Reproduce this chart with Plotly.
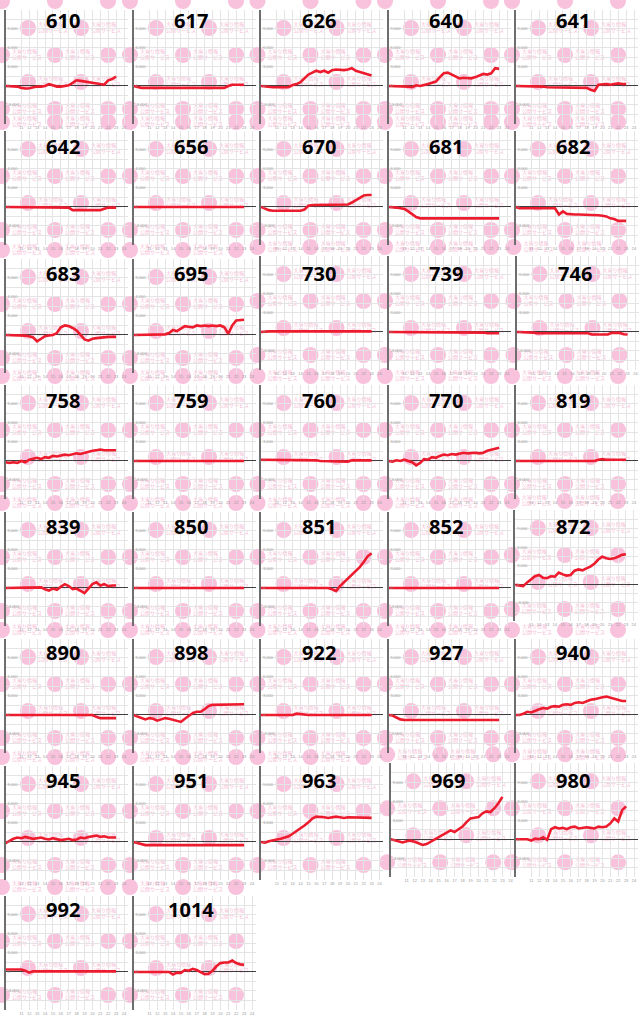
import plotly.graph_objects as go

W, H = 640, 1019

# ---------------- data ----------------
HOURS = [9 + 0.5 * i for i in range(29)]
X_TICKS = [10, 11, 12, 13, 14, 15, 16, 17, 18, 19, 20, 21, 22, 23, 24]
Y_TICKS = [-6000, -3000, 0, 3000, 6000, 9000, 12000]
Y_TICK_TEXT = ["-6,000", "-3,000", "0", "3,000", "6,000", "9,000", "12,000"]
Y_MINOR = [-4500, -1500, 1500, 4500, 7500, 10500]

v610 = [0, 0, 0, -100, -300, -400, -350, -200, -100, -100, 0, 300, 100, -100, -100, 0, 100, 500, 900, 800, 700, 600, 400, 300, 300, 200, 900, 1100, 1500]
v617 = [0, -200, -300, -300, -300, -300, -300, -300, -300, -300, -300, -300, -300, -300, -300, -300, -300, -300, -300, -300, -300, -300, -300, -300, 0, 200, 200, 200, 200]
v626 = [0, -100, -200, -200, -200, -200, -200, -200, 150, 300, 600, 1200, 1800, 2100, 2400, 2200, 2400, 2100, 2500, 2600, 2500, 2500, 2600, 2800, 2400, 2200, 2000, 1800, 1650]
v640 = [0, 0, 0, 0, 0, -100, -200, 100, 0, 100, 300, 500, 700, 1400, 2000, 2100, 1800, 1400, 1200, 1300, 1200, 1200, 1400, 1600, 1900, 1800, 2000, 2800, 2700]
v641 = [0, 0, 0, -100, -100, -100, -100, -100, -200, -200, -200, -200, -200, -200, -200, -200, -200, -200, -300, -600, -800, 200, 300, 300, 200, 300, 400, 300, 300]
v642 = [0, 0, 0, 0, 0, 0, 0, 0, 0, 0, 0, 0, 0, 0, 0, 0, -100, -500, -500, -500, -500, -500, -500, -500, -500, -300, -100, -100, -100]
v656 = [0, 0, 0, 0, 0, 0, 0, 0, 0, 0, 0, 0, 0, 0, 0, 0, 0, 0, 0, 0, 0, 0, 0, 0, 0, 0, 0, 0, 0]
v670 = [0, -300, -500, -600, -600, -600, -600, -600, -600, -600, -600, -400, 200, 300, 300, 300, 300, 300, 300, 300, 300, 300, 400, 700, 1100, 1500, 1800, 1900, 1900]
v681 = [0, 0, -100, -200, -300, -700, -1200, -1600, -1800, -1800, -1800, -1800, -1800, -1800, -1800, -1800, -1800, -1800, -1800, -1800, -1800, -1800, -1800, -1800, -1800, -1800, -1800, -1800, -1800]
v682 = [0, -200, -200, -200, -200, -200, -200, -200, -200, -200, -200, -1200, -700, -1100, -1200, -1200, -1200, -1200, -1200, -1200, -1200, -1300, -1400, -1500, -1800, -1900, -2200, -2200, -2200]
v683 = [0, 0, 0, 0, 0, -100, -200, -400, -1000, -600, -200, -100, 0, 300, 1200, 1500, 1400, 1100, 700, 0, -700, -900, -600, -500, -400, -300, -300, -300, -300]
v695 = [0, 0, 0, 0, 0, 0, 0, 0, 100, 300, 800, 600, 1000, 1400, 1300, 1200, 1500, 1400, 1500, 1400, 1500, 1400, 1500, 1200, 200, 1500, 2300, 2400, 2400]
v730 = [0, 100, 100, 100, 100, 100, 100, 100, 100, 100, 100, 100, 100, 100, 100, 100, 100, 100, 100, 100, 100, 100, 100, 100, 100, 100, 100, 100, 100]
v739 = [0, 0, 0, 0, 0, 0, 0, 0, 0, 0, 0, 0, 0, 0, 0, 0, 0, 0, 0, 0, 0, 0, -100, -100, -100, -200, -200, -200, -200]
v746 = [0, 0, 0, 0, -100, -200, -200, -200, -200, -200, -200, -200, -200, -200, -200, -200, -200, -200, -200, -400, -400, -400, -400, -400, -150, -150, -150, -350, -400]
v758 = [-200, -300, -200, -300, 0, -200, 200, 400, 500, 300, 600, 500, 800, 700, 800, 1000, 900, 1000, 1200, 1100, 1300, 1500, 1600, 1700, 1800, 1700, 1700, 1700, 1700]
v759 = [0, 0, 0, 0, 0, 0, 0, 0, 0, 0, 0, 0, 0, 0, 0, 0, 0, 0, 0, 0, 0, 0, 0, 0, 0, 0, 0, 0, 0]
v760 = [200, 200, 200, 200, 200, 200, 200, 100, 100, 100, 100, 100, 100, 100, 100, 0, 0, 0, 0, -100, -100, -100, -100, 100, 100, 100, 100, 100, 100]
v770 = [0, -100, 100, 0, 200, 0, -200, -700, -300, 300, 200, 600, 500, 800, 1000, 900, 1100, 1000, 1100, 1300, 1200, 1300, 1300, 1200, 1300, 1600, 1800, 2000, 2100]
v819 = [0, 0, 0, 0, 0, 0, 0, 0, 0, 0, 0, 0, 0, 0, 0, 0, 0, 0, 0, 0, 0, 200, 300, 200, 200, 200, 200, 200, 200]
v839 = [0, 0, 0, 0, 0, 0, 0, 0, 0, 100, -200, -400, -100, -300, 200, 600, 300, -200, -100, -500, -800, -100, 600, 900, 400, 600, 300, 400, 400]
v850 = [0, 0, 0, 0, 0, 0, 0, 0, 0, 0, 0, 0, 0, 0, 0, 0, 0, 0, 0, 0, 0, 0, 0, 0, 0, 0, 0, 0, 0]
v851 = [0, 0, 0, 0, 0, 0, 0, 0, 0, 0, 0, 0, 0, 0, 0, 0, 0, 0, -200, -500, 300, 900, 1500, 2100, 2700, 3300, 4100, 5000, 5500]
v852 = [0, 0, 0, 0, 0, 0, 0, 0, 0, 0, 0, 0, 0, 0, 0, 0, 0, 0, 0, 0, 0, 0, 0, 0, 0, 0, 0, 0, 0]
v872 = [-100, -250, -300, 300, 850, 1300, 1500, 1050, 1000, 1300, 1250, 1900, 1600, 1400, 1500, 2200, 2400, 2250, 2580, 2850, 3300, 4000, 4460, 4200, 4080, 4190, 4450, 4750, 4840]
v890 = [0, 0, 0, 0, 0, 0, 0, 0, 0, 0, 0, 0, 0, 0, 0, 0, 0, 0, 0, 0, 0, 0, 0, -300, -500, -500, -500, -500, -500]
v898 = [0, -200, -400, -700, -500, -600, -900, -700, -500, -600, -800, -1000, -1100, -600, -100, 300, 500, 500, 900, 1400, 1600, 1600, 1700, 1700, 1700, 1700, 1700, 1700, 1700]
v922 = [0, 0, 0, 0, 0, 0, 0, 0, 0, 200, 100, 0, 0, 0, 0, 0, 0, 0, 0, 0, 0, 0, 0, 0, 0, 0, 0, 0, 0]
v927 = [0, -100, -400, -700, -800, -800, -800, -800, -800, -800, -800, -800, -800, -800, -800, -800, -800, -800, -800, -800, -800, -800, -800, -800, -800, -800, -800, -800, -800]
v940 = [0, 0, 200, 500, 400, 700, 900, 1100, 1000, 1300, 1400, 1300, 1600, 1700, 1600, 1900, 2000, 1900, 2200, 2400, 2500, 2700, 2800, 2900, 2700, 2500, 2300, 2200, 2200]
v945 = [-200, 200, 500, 700, 600, 800, 700, 500, 600, 700, 500, 400, 600, 500, 300, 400, 500, 300, 400, 700, 600, 800, 900, 1000, 800, 900, 700, 700, 700]
v951 = [0, -200, -400, -500, -500, -500, -500, -500, -500, -500, -500, -500, -500, -500, -500, -500, -500, -500, -500, -500, -500, -500, -500, -500, -500, -500, -500, -500, -500]
v963 = [0, -100, 100, 300, 400, 500, 700, 900, 1300, 1700, 2100, 2600, 3100, 3700, 4000, 4000, 3900, 3800, 3900, 4000, 3900, 3800, 3900, 3900, 3800, 3900, 3900, 3800, 3800]
v969 = [0, -200, -400, -500, -300, -200, -400, -700, -900, -750, -400, -100, 300, 600, 1000, 1400, 1150, 1600, 2000, 2700, 3300, 3400, 3500, 4100, 4400, 4300, 4900, 5700, 6700]
v980 = [0, 0, -100, 0, -200, 100, 0, 300, -100, 1600, 1900, 1700, 1800, 1600, 1900, 2000, 1700, 1800, 1900, 1800, 1700, 2000, 1900, 2000, 2500, 3300, 2800, 4600, 5200]
v992 = [400, 400, 400, 400, 400, 200, -100, 100, 100, 100, 100, 100, 100, 100, 100, 100, 100, 100, 100, 100, 100, 100, 100, 100, 100, 100, 100, 100, 100]
v1014 = [0, 0, 0, 0, 0, 0, 0, 0, 0, 0, -400, -100, -150, 300, 200, 500, 300, 0, -350, -300, 200, 900, 1400, 1500, 1500, 1800, 1400, 1200, 1150]

PANELS = [
    ("610", v610), ("617", v617), ("626", v626), ("640", v640), ("641", v641),
    ("642", v642), ("656", v656), ("670", v670), ("681", v681), ("682", v682),
    ("683", v683), ("695", v695), ("730", v730), ("739", v739), ("746", v746),
    ("758", v758), ("759", v759), ("760", v760), ("770", v770), ("819", v819),
    ("839", v839), ("850", v850), ("851", v851), ("852", v852), ("872", v872),
    ("890", v890), ("898", v898), ("922", v922), ("927", v927), ("940", v940),
    ("945", v945), ("951", v951), ("963", v963), ("969", v969), ("980", v980),
    ("992", v992), ("1014", v1014),
]

# ---------------- geometry / style ----------------
COL_AXIS_X = [5.5, 133.5, 261, 388.5, 515.5]
ROW_TOP = [10, 131, 259, 385, 512, 639, 766, 896]
ROW_TITLE_Y = [20, 147, 273, 400, 526, 652, 780, 909]
PX_HOUR = 7.9
PX_K = 6.33
OVERRIDE = {
    "730": dict(top=256),
    "739": dict(top=256),
    "746": dict(top=256, ax=517),
    "872": dict(top=510, ax=515.3, pxk=6.19),
    "969": dict(top=763.3, ax=390.7, pxh=7.98),
    "980": dict(top=763.3),
}
GRID = "#e4e4e4"
RED = "#ec1c2e"
PINK_CIRCLE = "#f8c2dc"
PINK_TEXT = "#f6b8d4"
TICK_FONT = dict(size=4, color="#9a9a9a", family="Liberation Sans")

fig = go.Figure()
layout = dict(
    width=W, height=H, margin=dict(l=0, r=0, t=0, b=0),
    paper_bgcolor="white", plot_bgcolor="rgba(0,0,0,0)", showlegend=False,
    xaxis=dict(domain=[0, 1], range=[0, W], visible=False),
    yaxis=dict(domain=[0, 1], range=[H, 0], visible=False),
)

wm_cx, wm_cy, wm_tx, wm_ty, wm_txt = [], [], [], [], []
annotations = []

for i, (name, vals) in enumerate(PANELS):
    r, c = divmod(i, 5)
    o = OVERRIDE.get(name, {})
    ax = o.get("ax", COL_AXIS_X[c])
    top = o.get("top", ROW_TOP[r])
    pxh = o.get("pxh", PX_HOUR)
    pxk = o.get("pxk", PX_K)
    bottom = top + 18 * pxk
    right = ax + 15.5 * pxh
    n = i + 2

    # watermark tiles (decoration)
    cx0, cy0 = ax - 5.5, top - 10
    for j in range(5):
        yy = cy0 + 1 + 27 * j
        offs = [2, 55, 108] if j % 2 == 0 else [28, 81]
        for ox in offs:
            wm_cx.append(cx0 + ox)
            wm_cy.append(yy)
            if ox + 36 <= 128 and yy - 7 >= 0:
                wm_tx += [cx0 + ox + 10, cx0 + ox + 10]
                wm_ty += [yy - 3, yy + 3]
                wm_txt += ["大当り情報", "公開サービス"]

    layout[f"xaxis{n}"] = dict(
        domain=[ax / W, right / W], range=[9, 24.5], anchor=f"y{n}",
        tickmode="array", tickvals=X_TICKS, ticktext=[str(t) for t in X_TICKS],
        tickfont=TICK_FONT, showgrid=True, gridcolor=GRID, gridwidth=1,
        zeroline=False, showline=False, ticks="", fixedrange=True,
    )
    layout[f"yaxis{n}"] = dict(
        domain=[1 - bottom / H, 1 - top / H], range=[-6000, 12000], anchor=f"x{n}",
        tickmode="array", tickvals=Y_TICKS, ticktext=Y_TICK_TEXT,
        tickfont=TICK_FONT, ticklabelposition="inside", ticks="",
        showgrid=True, gridcolor=GRID, gridwidth=1,
        minor=dict(tickvals=Y_MINOR, showgrid=True, gridcolor=GRID, gridwidth=1),
        zeroline=True, zerolinecolor="#3f3f3f", zerolinewidth=1.3,
        showline=True, linecolor="#6e6e6e", linewidth=1.5, fixedrange=True,
    )
    fig.add_trace(go.Scatter(
        x=HOURS, y=vals, mode="lines", xaxis=f"x{n}", yaxis=f"y{n}",
        line=dict(color=RED, width=2.6), hoverinfo="skip",
    ))
    annotations.append(dict(
        text=name, xref="paper", yref="paper",
        x=(ax - 5.5 + 63) / W, y=1 - ROW_TITLE_Y[r] / H,
        xanchor="center", yanchor="middle", showarrow=False,
        font=dict(family="Noto Sans", size=20, color="black", weight="bold"),
    ))

# watermark traces on the background axis (beneath the panels)
wm_traces = [
    go.Scatter(x=wm_cx, y=wm_cy, mode="markers", xaxis="x", yaxis="y",
               marker=dict(size=16, color=PINK_CIRCLE, line=dict(width=0)),
               hoverinfo="skip"),
    go.Scatter(x=wm_tx, y=wm_ty, mode="text", text=wm_txt, xaxis="x", yaxis="y",
               textposition="middle right",
               textfont=dict(size=5, color=PINK_TEXT, family="Noto Sans CJK JP"),
               hoverinfo="skip"),
]
fig.add_traces(wm_traces)
fig.data = tuple(list(fig.data[-2:]) + list(fig.data[:-2]))

layout["annotations"] = annotations
fig.update_layout(**layout)
fig.write_html(
    "out.html",
    config={"displayModeBar": False},
    post_script="document.body.style.margin='0';document.body.style.padding='0';"
                "document.documentElement.style.overflow='hidden';",
)
